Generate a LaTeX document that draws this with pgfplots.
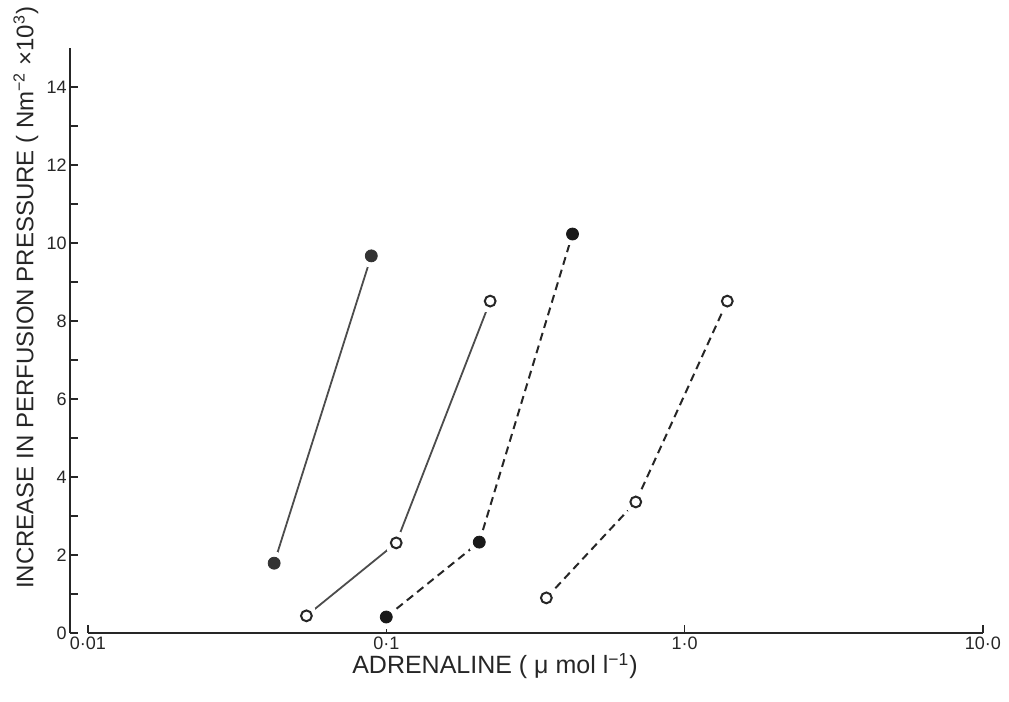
\documentclass[border=0pt]{standalone}
\usepackage{fontspec}
\setmainfont{Liberation Sans}
\usepackage{pgfplots}
\pgfplotsset{compat=1.18}
\usepackage{pgfplotstable}

% dose-response data: adrenaline (umol/l) vs rise in perfusion pressure
\pgfplotstableread{
x y
0.0421 1.79
0.0891 9.67
}\seriesA
\pgfplotstableread{
x y
0.0540 0.44
0.108 2.31
0.223 8.51
}\seriesB
\pgfplotstableread{
x y
0.100 0.41
0.205 2.33
0.421 10.23
}\seriesC
\pgfplotstableread{
x y
0.344 0.90
0.686 3.36
1.39 8.51
}\seriesD

\colorlet{ink}{black!85}
\pgfplotsset{halo/.style={white, only marks, mark=*, mark size=5.5pt,
  mark options={fill=white, draw=white, line width=0pt}}}

\begin{document}
\begin{tikzpicture}[x=1pt,y=1pt]
\path[use as bounding box] (-35,-34.5) rectangle (469.5,316.5);
\begin{axis}[
  scale only axis, width=456.5pt, height=292.5pt,
  at={(0,0)}, anchor=south west,
  xmode=log, xmin=0.00871, xmax=10, ymin=0, ymax=15,
  clip=false,
  axis x line=bottom, axis y line=left,
  axis line style={-, draw=ink, line width=0.8pt},
  every outer x axis line/.append style={draw=none},
  xtick align=inside, ytick align=inside,
  major tick length=4pt, minor tick length=4pt,
  tick style={draw=ink, line width=0.7pt},
  xtick={0.01,0.1,1,10},
  xticklabels={0·01,0·1,1·0,10·0},
  xminorticks=false,
  ytick={0,2,...,14},
  minor ytick={1,3,...,13},
  /pgf/number format/assume math mode=true,
  ticklabel style={font=\fontsize{9}{10}\selectfont, text=ink},
  yticklabel style={inner xsep=1.5pt},
  xticklabel style={inner sep=1pt, yshift=-1pt},
  label style={font=\fontsize{12.5}{14}\selectfont, text=ink},
  xlabel={ADRENALINE ( μ mol l\textsuperscript{−1})},
  xlabel style={at={(axis description cs:0.4655,-0.0564)}, anchor=center},
  ylabel={INCREASE IN PERFUSION PRESSURE ( Nm\textsuperscript{−2} ×10\textsuperscript{3})},
  ylabel style={at={(axis description cs:-0.0483,0.573)}, anchor=center, font=\fontsize{12}{14}\selectfont},
]
% horizontal axis line running from 0.01 to 10
\draw[ink, line width=0.8pt] (axis cs:0.01,0) -- (axis cs:10,0);

% connecting lines
\addplot[black!70, line width=0.9pt, no marks] table {\seriesA};
\addplot[black!70, line width=0.9pt, no marks] table {\seriesB};
\addplot[ink, line width=1pt, no marks, dash pattern=on 4pt off 2.6pt] table {\seriesC};
\addplot[ink, line width=1pt, no marks, dash pattern=on 4pt off 2.6pt] table {\seriesD};

% white gaps around each point
\addplot[halo] table {\seriesA};
\addplot[halo] table {\seriesB};
\addplot[halo] table {\seriesC};
\addplot[halo] table {\seriesD};

% points
\addplot[only marks, mark=*, mark size=3pt, mark options={fill=black!80, draw=black!80}] table {\seriesA};
\addplot[only marks, mark=o, mark size=2.7pt, mark options={draw=ink, line width=1pt, fill=white}] table {\seriesB};
\addplot[only marks, mark=*, mark size=3pt, mark options={fill=black!90, draw=black!90}] table {\seriesC};
\addplot[only marks, mark=o, mark size=2.7pt, mark options={draw=ink, line width=1pt, fill=white}] table {\seriesD};
\end{axis}
\end{tikzpicture}
\end{document}
